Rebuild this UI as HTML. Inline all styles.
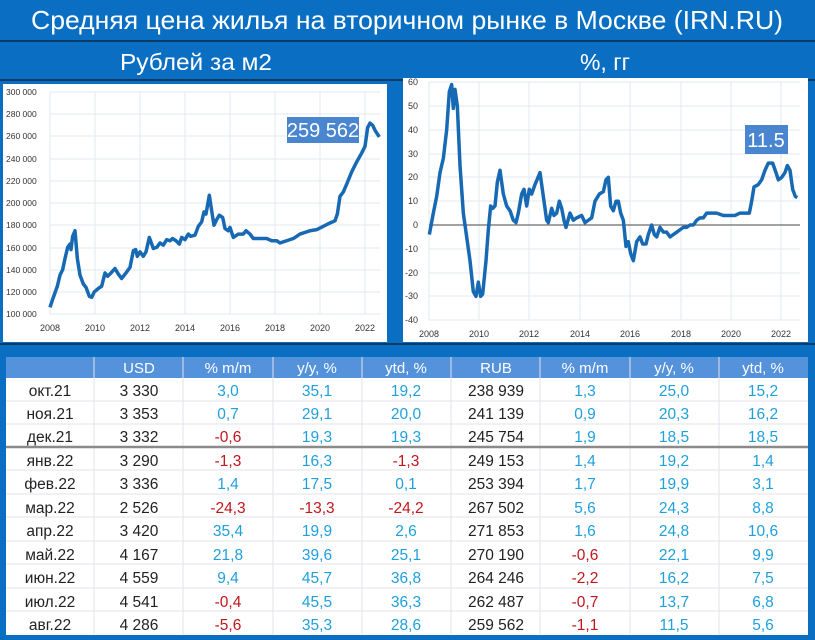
<!DOCTYPE html>
<html><head><meta charset="utf-8"><style>
html,body{margin:0;padding:0;background:#0a6fc2;}
svg{display:block;font-family:"Liberation Sans",sans-serif;}
</style></head><body>
<svg width="815" height="640" viewBox="0 0 815 640" xmlns="http://www.w3.org/2000/svg">
<rect width="815" height="640" fill="#0a6fc2"/>
<text x="407" y="29" text-anchor="middle" font-size="26" fill="#fff" textLength="752" lengthAdjust="spacingAndGlyphs">Средняя цена жилья на вторичном рынке в Москве (IRN.RU)</text>
<line x1="0" y1="41" x2="815" y2="41" stroke="#0b2a4a" stroke-width="1.5"/>
<text x="196" y="70" text-anchor="middle" font-size="23" fill="#fff" textLength="152" lengthAdjust="spacingAndGlyphs">Рублей за м2</text>
<text x="605" y="70" text-anchor="middle" font-size="23" fill="#fff">%, гг</text>
<line x1="0" y1="80" x2="815" y2="80" stroke="#0b2a4a" stroke-width="1.5"/>
<line x1="0" y1="344" x2="815" y2="344" stroke="#0b2a4a" stroke-width="1.5"/>

<!-- Left chart -->
<rect x="3" y="84" width="384" height="258" fill="#fff"/>
<g stroke="#e3e8ef" stroke-width="1">
<line x1="50" y1="92" x2="380" y2="92"/><line x1="50" y1="114" x2="380" y2="114"/><line x1="50" y1="136" x2="380" y2="136"/><line x1="50" y1="159" x2="380" y2="159"/><line x1="50" y1="181" x2="380" y2="181"/><line x1="50" y1="203" x2="380" y2="203"/><line x1="50" y1="225" x2="380" y2="225"/><line x1="50" y1="248" x2="380" y2="248"/><line x1="50" y1="270" x2="380" y2="270"/><line x1="50" y1="292" x2="380" y2="292"/><line x1="50" y1="314" x2="380" y2="314"/>
<line x1="50" y1="92" x2="50" y2="314"/><line x1="95" y1="92" x2="95" y2="314"/><line x1="140" y1="92" x2="140" y2="314"/><line x1="185" y1="92" x2="185" y2="314"/><line x1="230" y1="92" x2="230" y2="314"/><line x1="275" y1="92" x2="275" y2="314"/><line x1="320" y1="92" x2="320" y2="314"/><line x1="365" y1="92" x2="365" y2="314"/>
</g>
<g font-size="8.5" fill="#333">
<text x="6" y="95">300 000</text><text x="6" y="117">280 000</text><text x="6" y="139">260 000</text><text x="6" y="162">240 000</text><text x="6" y="184">220 000</text><text x="6" y="206">200 000</text><text x="6" y="228">180 000</text><text x="6" y="251">160 000</text><text x="6" y="273">140 000</text><text x="6" y="295">120 000</text><text x="6" y="317">100 000</text>
</g>
<g font-size="9" fill="#333" text-anchor="middle">
<text x="50" y="331">2008</text><text x="95" y="331">2010</text><text x="140" y="331">2012</text><text x="185" y="331">2014</text><text x="230" y="331">2016</text><text x="275" y="331">2018</text><text x="320" y="331">2020</text><text x="365" y="331">2022</text>
</g>
<g transform="translate(0,314) scale(0.33333,-1.11) translate(0,-100)">
<polyline fill="none" stroke="#1769b3" stroke-width="3.5" vector-effect="non-scaling-stroke" stroke-linejoin="round" points="150,106 160,115 172,125 180,135 188,140 195,150 203,160 210,163 213,158 218,170 225,175 232,150 240,135 250,127 258,124 268,116 275,115 283,120 295,123 305,125 315,137 323,134 333,137 345,141 355,136 365,132 378,137 390,142 400,157 407,158 412,152 420,156 430,152 438,156 448,169 460,159 470,160 480,164 490,162 500,167 510,166 518,168 528,166 538,163 545,169 555,167 565,172 572,170 585,171 595,179 605,183 612,192 618,190 628,207 635,193 642,180 650,185 658,189 668,187 675,177 685,175 690,178 700,169 715,172 730,172 738,175 750,172 760,168 780,168 800,168 815,166 830,166 840,164 860,166 880,168 900,172 930,175 950,176 970,179 990,182 1005,184 1012,190 1020,206 1030,210 1040,217 1055,228 1070,237 1085,245 1095,251 1103,268 1110,272 1118,270 1126,265 1138,259.5"/>
</g>
<rect x="287" y="117" width="72" height="26" fill="#4a86d0"/>
<text x="323" y="137" text-anchor="middle" font-size="20" fill="#fff">259 562</text>

<!-- Right chart -->
<rect x="403" y="78" width="405" height="264" fill="#fff"/>
<g stroke="#e3e8ef" stroke-width="1">
<line x1="429" y1="82" x2="800" y2="82"/><line x1="429" y1="106" x2="800" y2="106"/><line x1="429" y1="130" x2="800" y2="130"/><line x1="429" y1="154" x2="800" y2="154"/><line x1="429" y1="177" x2="800" y2="177"/><line x1="429" y1="201" x2="800" y2="201"/><line x1="429" y1="249" x2="800" y2="249"/><line x1="429" y1="273" x2="800" y2="273"/><line x1="429" y1="296" x2="800" y2="296"/><line x1="429" y1="320" x2="800" y2="320"/>
<line x1="429" y1="82" x2="429" y2="320"/><line x1="479" y1="82" x2="479" y2="320"/><line x1="529" y1="82" x2="529" y2="320"/><line x1="580" y1="82" x2="580" y2="320"/><line x1="630" y1="82" x2="630" y2="320"/><line x1="681" y1="82" x2="681" y2="320"/><line x1="731" y1="82" x2="731" y2="320"/><line x1="781" y1="82" x2="781" y2="320"/>
</g>
<line x1="429" y1="225" x2="800" y2="225" stroke="#444" stroke-width="1"/>
<g font-size="9" fill="#333" text-anchor="end">
<text x="418" y="85">60</text><text x="418" y="109">50</text><text x="418" y="133">40</text><text x="418" y="157">30</text><text x="418" y="180">20</text><text x="418" y="204">10</text><text x="418" y="228">0</text><text x="418" y="252">-10</text><text x="418" y="276">-20</text><text x="418" y="299">-30</text><text x="418" y="323">-40</text>
</g>
<g font-size="9" fill="#333" text-anchor="middle">
<text x="429" y="337">2008</text><text x="479" y="337">2010</text><text x="529" y="337">2012</text><text x="580" y="337">2014</text><text x="630" y="337">2016</text><text x="681" y="337">2018</text><text x="731" y="337">2020</text><text x="781" y="337">2022</text>
</g>
<g transform="translate(400,225) scale(0.33333,-2.38)">
<polyline fill="none" stroke="#1769b3" stroke-width="3.5" vector-effect="non-scaling-stroke" stroke-linejoin="round" points="88,-4 100,5 110,12 120,22 130,28 140,40 148,56 155,59 160,49 165,57 172,50 180,25 190,5 200,-5 210,-15 220,-28 228,-30 235,-24 242,-30 248,-29 258,-15 265,-2 272,8 278,7 285,8 292,18 300,23 310,13 320,8 330,6 340,2 348,1 355,5 365,13 372,15 380,8 388,15 395,13 405,17 420,22 430,12 440,2 445,1 455,7 462,4 470,5 478,10 485,7 492,2 498,-1 510,5 520,2 530,3 545,4 555,1 565,2 575,3 585,10 598,13 610,14 618,19 625,20 632,8 640,6 648,10 655,10 662,5 670,2 678,-9 685,-7 692,-12 700,-15 710,-7 720,-5 728,-8 738,-8 745,-4 755,0 763,-4 770,-5 780,-1 790,-3 800,-3 810,-5 820,-4 830,-3 840,-2 850,-1 860,-1 870,0 880,0 890,2 900,3 910,3 920,5 935,5 950,5 970,4 990,4 1005,4 1020,5 1040,5 1048,5 1055,10 1062,16 1075,17 1085,19 1095,23 1105,26 1118,26 1128,22 1135,19 1145,20 1155,22 1162,25 1170,23 1178,15 1186,12 1192,11.5"/>
</g>
<rect x="745" y="125" width="43" height="29" fill="#4a86d0"/>
<text x="766" y="147" text-anchor="middle" font-size="20" fill="#fff">11.5</text>

<!-- Table -->
<rect x="6" y="357" width="802" height="278" fill="#fff"/>
<rect x="6" y="357" width="802" height="21" fill="#5592dc"/>
<g stroke="#dfe3e8" stroke-width="1">
<line x1="94" y1="357" x2="94" y2="635"/><line x1="183" y1="357" x2="183" y2="635"/><line x1="273" y1="357" x2="273" y2="635"/><line x1="362" y1="357" x2="362" y2="635"/><line x1="451" y1="357" x2="451" y2="635"/><line x1="540" y1="357" x2="540" y2="635"/><line x1="630" y1="357" x2="630" y2="635"/><line x1="719" y1="357" x2="719" y2="635"/>
<line x1="6" y1="401" x2="808" y2="401"/><line x1="6" y1="424" x2="808" y2="424"/><line x1="6" y1="470" x2="808" y2="470"/><line x1="6" y1="494" x2="808" y2="494"/><line x1="6" y1="517" x2="808" y2="517"/><line x1="6" y1="541" x2="808" y2="541"/><line x1="6" y1="564" x2="808" y2="564"/><line x1="6" y1="588" x2="808" y2="588"/><line x1="6" y1="611" x2="808" y2="611"/>
</g>
<line x1="6" y1="447" x2="808" y2="447" stroke="#8a8a8a" stroke-width="2.5"/>
<g font-size="15" fill="#fff" text-anchor="middle">
<text x="139" y="373">USD</text><text x="228" y="373">% m/m</text><text x="317" y="373">y/y, %</text><text x="406" y="373">ytd, %</text><text x="496" y="373">RUB</text><text x="585" y="373">% m/m</text><text x="674" y="373">y/y, %</text><text x="763" y="373">ytd, %</text>
</g>
<g font-size="15.5" text-anchor="middle">
<g fill="#222"><text x="50" y="396">окт.21</text><text x="50" y="419">ноя.21</text><text x="50" y="442">дек.21</text><text x="50" y="466">янв.22</text><text x="50" y="489">фев.22</text><text x="50" y="513">мар.22</text><text x="50" y="536">апр.22</text><text x="50" y="560">май.22</text><text x="50" y="583">июн.22</text><text x="50" y="607">июл.22</text><text x="50" y="630">авг.22</text>
<text x="139" y="396">3 330</text><text x="139" y="419">3 353</text><text x="139" y="442">3 332</text><text x="139" y="466">3 290</text><text x="139" y="489">3 336</text><text x="139" y="513">2 526</text><text x="139" y="536">3 420</text><text x="139" y="560">4 167</text><text x="139" y="583">4 559</text><text x="139" y="607">4 541</text><text x="139" y="630">4 286</text>
<text x="496" y="396">238 939</text><text x="496" y="419">241 139</text><text x="496" y="442">245 754</text><text x="496" y="466">249 153</text><text x="496" y="489">253 394</text><text x="496" y="513">267 502</text><text x="496" y="536">271 853</text><text x="496" y="560">270 190</text><text x="496" y="583">264 246</text><text x="496" y="607">262 487</text><text x="496" y="630">259 562</text></g>
<g fill="#1fa0dc">
<text x="228" y="396">3,0</text><text x="317" y="396">35,1</text><text x="406" y="396">19,2</text><text x="585" y="396">1,3</text><text x="674" y="396">25,0</text><text x="763" y="396">15,2</text>
<text x="228" y="419">0,7</text><text x="317" y="419">29,1</text><text x="406" y="419">20,0</text><text x="585" y="419">0,9</text><text x="674" y="419">20,3</text><text x="763" y="419">16,2</text>
<text x="317" y="442">19,3</text><text x="406" y="442">19,3</text><text x="585" y="442">1,9</text><text x="674" y="442">18,5</text><text x="763" y="442">18,5</text>
<text x="317" y="466">16,3</text><text x="585" y="466">1,4</text><text x="674" y="466">19,2</text><text x="763" y="466">1,4</text>
<text x="228" y="489">1,4</text><text x="317" y="489">17,5</text><text x="406" y="489">0,1</text><text x="585" y="489">1,7</text><text x="674" y="489">19,9</text><text x="763" y="489">3,1</text>
<text x="585" y="513">5,6</text><text x="674" y="513">24,3</text><text x="763" y="513">8,8</text>
<text x="228" y="536">35,4</text><text x="317" y="536">19,9</text><text x="406" y="536">2,6</text><text x="585" y="536">1,6</text><text x="674" y="536">24,8</text><text x="763" y="536">10,6</text>
<text x="228" y="560">21,8</text><text x="317" y="560">39,6</text><text x="406" y="560">25,1</text><text x="674" y="560">22,1</text><text x="763" y="560">9,9</text>
<text x="228" y="583">9,4</text><text x="317" y="583">45,7</text><text x="406" y="583">36,8</text><text x="674" y="583">16,2</text><text x="763" y="583">7,5</text>
<text x="317" y="607">45,5</text><text x="406" y="607">36,3</text><text x="674" y="607">13,7</text><text x="763" y="607">6,8</text>
<text x="317" y="630">35,3</text><text x="406" y="630">28,6</text><text x="674" y="630">11,5</text><text x="763" y="630">5,6</text>
</g>
<g fill="#c0161c">
<text x="228" y="442">-0,6</text>
<text x="228" y="466">-1,3</text><text x="406" y="466">-1,3</text>
<text x="228" y="513">-24,3</text><text x="317" y="513">-13,3</text><text x="406" y="513">-24,2</text>
<text x="585" y="560">-0,6</text><text x="585" y="583">-2,2</text>
<text x="228" y="607">-0,4</text><text x="585" y="607">-0,7</text>
<text x="228" y="630">-5,6</text><text x="585" y="630">-1,1</text>
</g>
</g>
</svg>
</body></html>
